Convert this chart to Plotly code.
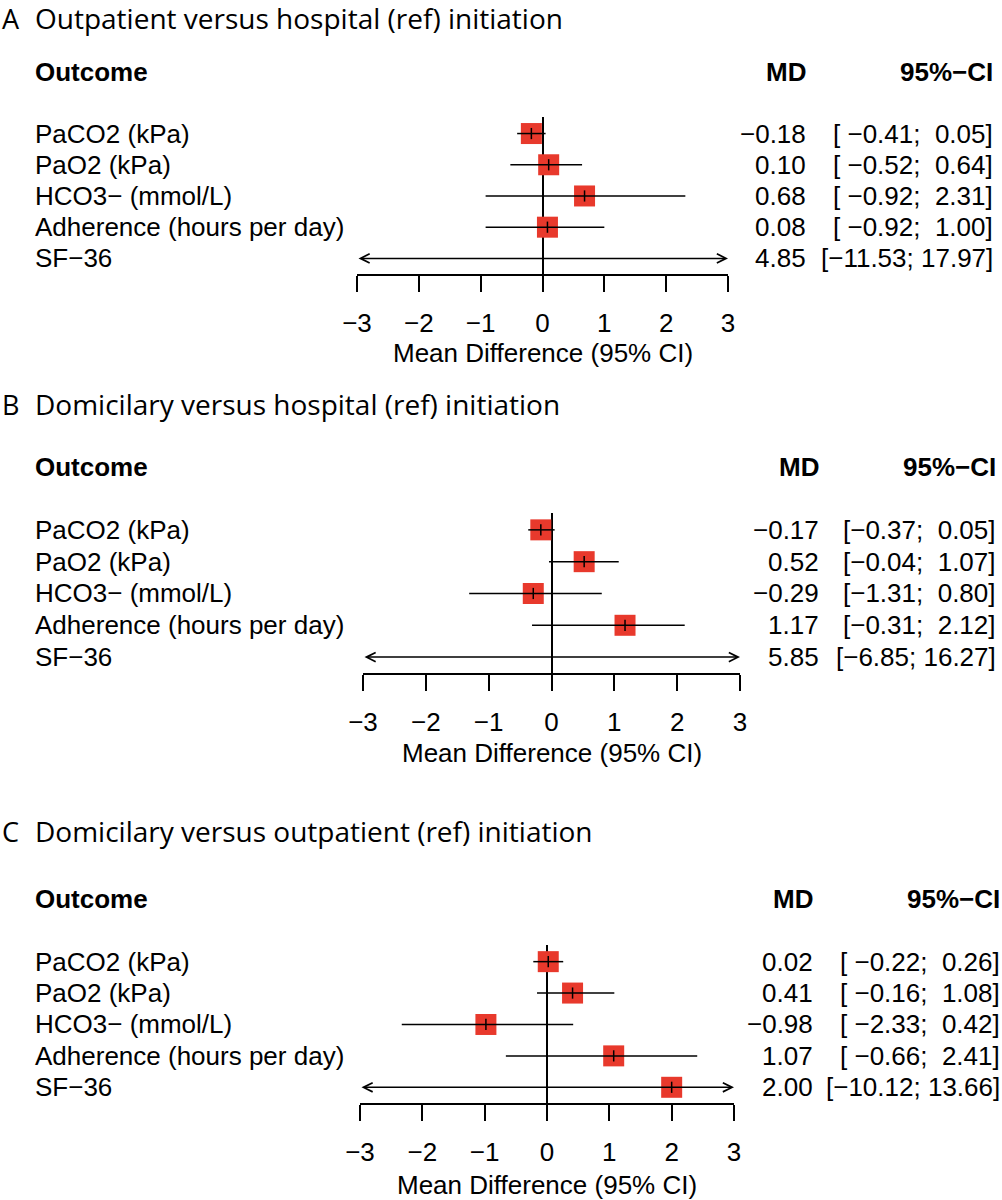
import plotly.graph_objects as go

# data
outcomes = ["PaCO2 (kPa)", "PaO2 (kPa)", "HCO3− (mmol/L)",
            "Adherence (hours per day)", "SF−36"]

letters = ["A", "B", "C"]
titles = ["Outpatient versus hospital (ref) initiation",
          "Domicilary versus hospital (ref) initiation",
          "Domicilary versus outpatient (ref) initiation"]

md_a = [-0.18, 0.10, 0.68, 0.08, 4.85]
lo_a = [-0.41, -0.52, -0.92, -0.92, -11.53]
hi_a = [0.05, 0.64, 2.31, 1.00, 17.97]

md_b = [-0.17, 0.52, -0.29, 1.17, 5.85]
lo_b = [-0.37, -0.04, -1.31, -0.31, -6.85]
hi_b = [0.05, 1.07, 0.80, 2.12, 16.27]

md_c = [0.02, 0.41, -0.98, 1.07, 2.00]
lo_c = [-0.22, -0.16, -2.33, -0.66, -10.12]
hi_c = [0.26, 1.08, 0.42, 2.41, 13.66]

tick_vals = [-3, -2, -1, 0, 1, 2, 3]
x_label = "Mean Difference (95% CI)"

# page geometry (pixels)
W, H = 1002, 1200
XR = [-3, 3]
PAD = 3  # annotation box padding
panels = [
    dict(x0=357, x1=728, ytop=117, ybot=274, title_y=18, head_y=72, xlab_y=353, md_r=805, ci_r=992),
    dict(x0=363, x1=740, ytop=513, ybot=673, title_y=404, head_y=467, xlab_y=753, md_r=818, ci_r=995),
    dict(x0=360, x1=734, ytop=945, ybot=1103, title_y=831, head_y=899, xlab_y=1185, md_r=812, ci_r=1001),
]
data = [(md_a, lo_a, hi_a), (md_b, lo_b, hi_b), (md_c, lo_c, hi_c)]

RED = "#e8392c"
BODY = "Liberation Sans, Arial, sans-serif"
TITLE = "Open Sans, Lato, sans-serif"
FS = 26
NB = "\u00a0"


def fmt(v):
    return f"{v:.2f}".replace("-", "−")


def ci_strings(lo, hi):
    wl = max(len(f"{v:.2f}") for v in lo)
    wh = max(len(f"{v:.2f}") for v in hi)
    out = []
    for l, h in zip(lo, hi):
        s = "[" + f"{l:.2f}".rjust(wl) + "; " + f"{h:.2f}".rjust(wh) + "]"
        out.append(s.replace("-", "−").replace(" ", NB))
    return out


fig = go.Figure()
annots = []
rows = list(range(len(outcomes)))

for k, (p, (md, lo, hi)) in enumerate(zip(panels, data), start=1):
    xa = "x" if k == 1 else f"x{k}"
    ya = "y" if k == 1 else f"y{k}"
    left_x = (36 - PAD) / W
    md_x = (p["md_r"] + PAD) / W
    ci_x = min(p["ci_r"] + PAD, W) / W

    # squares (only where the estimate falls inside the axis)
    inside = [i for i in rows if XR[0] <= md[i] <= XR[1]]
    fig.add_trace(go.Scatter(
        x=[md[i] for i in inside], y=[rows[i] for i in inside],
        mode="markers", xaxis=xa, yaxis=ya,
        marker=dict(symbol="square", size=21, color=RED, line=dict(width=0)),
        hoverinfo="skip"))

    # confidence intervals, clipped with arrows where they leave the axis
    lx, ly = [], []
    for i in rows:
        l = max(lo[i], XR[0])
        h = min(hi[i], XR[1])
        cut_l = lo[i] < XR[0]
        cut_h = hi[i] > XR[1]
        if cut_l or cut_h:
            side = "end+start" if (cut_l and cut_h) else ("end" if cut_h else "start")
            annots.append(dict(
                x=h, y=rows[i], ax=l, ay=rows[i], xref=xa, yref=ya,
                axref=xa, ayref=ya, text="", showarrow=True, arrowside=side,
                arrowhead=5, startarrowhead=5, arrowsize=1.2, startarrowsize=1.2,
                arrowwidth=1.5, arrowcolor="black", standoff=0, startstandoff=0))
        else:
            lx += [l, h, None]
            ly += [rows[i], rows[i], None]
    fig.add_trace(go.Scatter(x=lx, y=ly, mode="lines", xaxis=xa, yaxis=ya,
                             line=dict(color="black", width=1.5), hoverinfo="skip"))

    # small vertical mark at each estimate
    fig.add_trace(go.Scatter(
        x=[md[i] for i in inside], y=[rows[i] for i in inside],
        mode="markers", xaxis=xa, yaxis=ya,
        marker=dict(symbol="line-ns", size=8, line=dict(width=1.5, color="black")),
        hoverinfo="skip"))

    fig.update_layout(**{
        ("xaxis" if k == 1 else f"xaxis{k}"): dict(
            domain=[p["x0"] / W, p["x1"] / W], range=XR, anchor=ya,
            showline=True, linecolor="black", linewidth=1.5,
            ticks="outside", ticklen=16, tickwidth=1.5, tickcolor="black",
            tickvals=tick_vals, ticktext=[str(t).replace("-", "−") for t in tick_vals],
            ticklabelstandoff=9, automargin=False,
            tickfont=dict(family=BODY, size=FS, color="black"),
            zeroline=True, zerolinecolor="black", zerolinewidth=1.5,
            showgrid=False, fixedrange=True),
        ("yaxis" if k == 1 else f"yaxis{k}"): dict(
            domain=[1 - p["ybot"] / H, 1 - p["ytop"] / H], range=[4.5, -0.53],
            anchor=xa, visible=False, showgrid=False, zeroline=False,
            automargin=False, fixedrange=True),
    })

    # panel title
    ty = 1 - p["title_y"] / H
    annots.append(dict(x=(3 - PAD) / W, y=ty, xref="paper", yref="paper",
                       text=letters[k - 1], showarrow=False, xanchor="left", yanchor="middle",
                       font=dict(family=TITLE, size=27, color="black")))
    annots.append(dict(x=left_x, y=ty, xref="paper", yref="paper",
                       text=titles[k - 1], showarrow=False, xanchor="left", yanchor="middle",
                       font=dict(family=TITLE, size=28, color="black")))

    # column headers
    hy = 1 - p["head_y"] / H
    for txt, xx, anc in [("Outcome", left_x, "left"), ("MD", md_x, "right"),
                         ("95%−CI", ci_x, "right")]:
        annots.append(dict(x=xx, y=hy, xref="paper", yref="paper", text=f"<b>{txt}</b>",
                           showarrow=False, xanchor=anc, yanchor="middle",
                           font=dict(family=BODY, size=FS, color="black")))

    # row texts
    cis = ci_strings(lo, hi)
    for i in rows:
        for txt, xx, anc in [(outcomes[i], left_x, "left"), (fmt(md[i]), md_x, "right"),
                             (cis[i], ci_x, "right")]:
            annots.append(dict(x=xx, y=rows[i], xref="paper", yref=ya, text=txt,
                               showarrow=False, xanchor=anc, yanchor="middle",
                               font=dict(family=BODY, size=FS, color="black")))

    # x label
    annots.append(dict(x=(p["x0"] + p["x1"]) / 2 / W, y=1 - p["xlab_y"] / H,
                       xref="paper", yref="paper", text=x_label, showarrow=False,
                       xanchor="center", yanchor="middle",
                       font=dict(family=BODY, size=FS, color="black")))

fig.update_layout(width=W, height=H,
                  margin=dict(l=0, r=0, t=0, b=0, pad=0, autoexpand=False),
                  paper_bgcolor="white", plot_bgcolor="white",
                  showlegend=False, annotations=annots)

fig.write_html("out.html", config={"displayModeBar": False},
               post_script="document.body.style.margin='0px';document.body.style.overflow='hidden';")
